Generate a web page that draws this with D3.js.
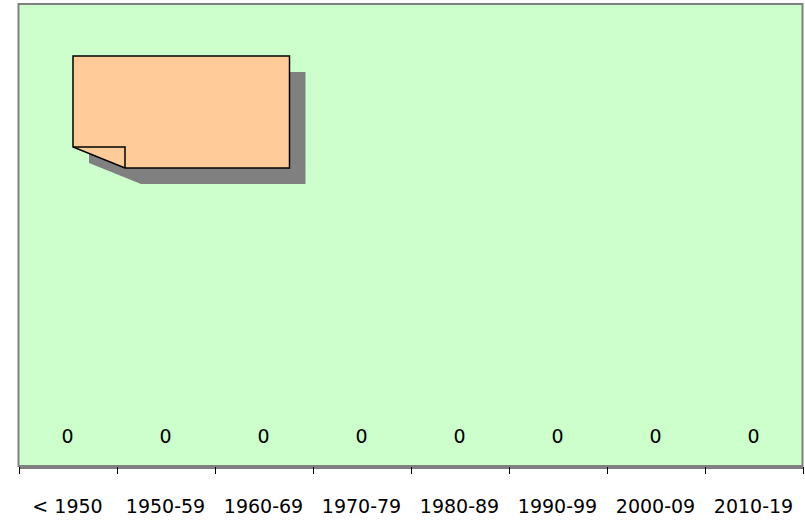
<!DOCTYPE html>
<html><head><meta charset="utf-8">
<script src="https://cdn.jsdelivr.net/npm/d3@7"></script>
<style>html,body{margin:0;padding:0;background:#fff;}svg{display:block;}</style>
</head><body>
<svg id="chart" width="805" height="520"></svg>
<script>
const categories = ["< 1950","1950-59","1960-69","1970-79","1980-89","1990-99","2000-09","2010-19"];
const values = [0,0,0,0,0,0,0,0];

const svg = d3.select("#chart");
const plot = {left:18.5, top:4, right:802.5, bottom:466};
const font = "'DejaVu Sans', Verdana, sans-serif";

const x = d3.scaleBand().domain(categories).range([plot.left, plot.right]).padding(0);
const y = d3.scaleLinear().domain([0, 1]).range([plot.bottom, plot.top]);

// plot area
svg.append("rect")
  .attr("x", plot.left).attr("y", plot.top)
  .attr("width", plot.right - plot.left).attr("height", plot.bottom - plot.top)
  .attr("fill", "#CCFFCC").attr("stroke", "#808080").attr("stroke-width", 2);

// bars (zero height)
svg.append("g").selectAll("rect").data(values).join("rect")
  .attr("x", (d,i) => x(categories[i]) + x.bandwidth()*0.2)
  .attr("width", x.bandwidth()*0.6)
  .attr("y", d => y(d))
  .attr("height", d => y(0) - y(d))
  .attr("fill", "#9999FF");

// data labels
svg.append("g").selectAll("text").data(values).join("text")
  .attr("x", (d,i) => x(categories[i]) + x.bandwidth()/2)
  .attr("y", d => y(d) - 23)
  .attr("text-anchor", "middle")
  .attr("font-family", font).attr("font-size", 19)
  .attr("fill", "#000")
  .text(d => d);

// x axis
const axis = d3.axisBottom(x).tickSize(0).tickPadding(0);
const gx = svg.append("g").attr("transform", `translate(0,${plot.bottom + 1.5})`).call(axis);
gx.select(".domain").attr("stroke", "#000").attr("stroke-width", 1);
gx.selectAll(".tick text").attr("font-family", font).attr("font-size", 19)
  .attr("fill", "#000").attr("dy", null).attr("y", 45.5);
gx.selectAll(".tick line").remove();
// tick marks at band boundaries
const bounds = categories.map(c => x(c)).concat([x(categories[categories.length-1]) + x.bandwidth()]);
svg.append("g").selectAll("line").data(bounds).join("line")
  .attr("x1", d => Math.round(d) + 0.5).attr("x2", d => Math.round(d) + 0.5)
  .attr("y1", plot.bottom + 1).attr("y2", plot.bottom + 8)
  .attr("stroke", "#000").attr("stroke-width", 1);

// note shape (folded corner) with shadow
const nx0 = 73, ny0 = 56, nx1 = 289.5, ny1 = 168, fold = 52, foldH = 21, sh = 16;
const notePath = (ox, oy) =>
  `M${nx0+ox},${ny0+oy} L${nx1+ox},${ny0+oy} L${nx1+ox},${ny1+oy} L${nx0+fold+ox},${ny1+oy} L${nx0+ox},${ny1-foldH+oy} Z`;
svg.append("path").attr("d", notePath(sh, sh)).attr("fill", "#808080");
svg.append("path").attr("d", notePath(0, 0)).attr("fill", "#FFCC99")
  .attr("stroke", "#000").attr("stroke-width", 1.5).attr("stroke-linejoin", "miter");
svg.append("path")
  .attr("d", `M${nx0},${ny1-foldH} L${nx0+fold},${ny1-foldH} L${nx0+fold},${ny1}`)
  .attr("fill", "none").attr("stroke", "#000").attr("stroke-width", 1.5);
</script>
</body></html>
